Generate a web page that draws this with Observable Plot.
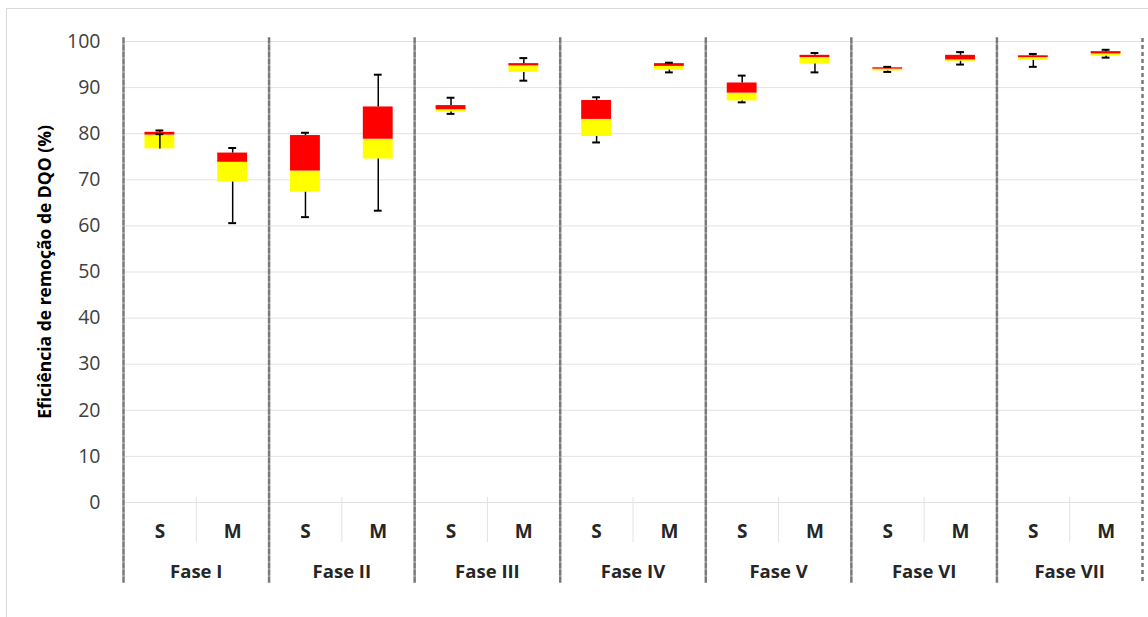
<!DOCTYPE html>
<html>
<head>
<meta charset="utf-8">
<script src="https://cdn.jsdelivr.net/npm/d3@7"></script>
<script src="https://cdn.jsdelivr.net/npm/@observablehq/plot@0.6"></script>
<style>
  html, body { margin: 0; padding: 0; background: #ffffff; }
  #wrap { position: relative; width: 1148px; height: 617px; overflow: hidden; background: #ffffff; }
  #chart { position: absolute; left: 0; top: 0; }
  #border { position: absolute; left: 6px; top: 8px; width: 1160px; height: 640px;
            border-left: 1px solid #d9d9d9; border-top: 1px solid #d9d9d9; pointer-events: none; }
</style>
</head>
<body>
<div id="wrap"><div id="chart"></div><div id="border"></div></div>
<script>
// ---- data ----
const phases = ["Fase I", "Fase II", "Fase III", "Fase IV", "Fase V", "Fase VI", "Fase VII"];
const groups = ["S", "M"];
// values in order: Fase I S, Fase I M, Fase II S, Fase II M, ...
const whiskerLow  = [79.9, 60.6, 61.9, 63.3, 84.3, 91.5, 78.1, 93.3, 86.8, 93.3, 93.4, 95.0, 94.5, 96.5];
const q1          = [76.7, 69.5, 67.3, 74.5, 84.7, 93.3, 79.4, 93.8, 87.1, 95.1, 93.6, 95.7, 95.9, 96.8];
const median      = [79.7, 73.8, 71.9, 78.8, 85.2, 94.7, 83.1, 94.6, 88.8, 96.5, 94.0, 96.0, 96.5, 97.3];
const q3          = [80.3, 75.8, 79.6, 85.8, 86.1, 95.2, 87.2, 95.2, 91.0, 97.0, 94.3, 97.0, 96.9, 97.8];
const whiskerHigh = [80.7, 76.9, 80.2, 92.8, 87.8, 96.4, 87.9, 95.4, 92.6, 97.5, 94.5, 97.7, 97.3, 98.2];
const yTicks = [0, 10, 20, 30, 40, 50, 60, 70, 80, 90, 100];
const yTitle = "Eficiência de remoção de DQO (%)";

const rows = [];
phases.forEach((phase, i) => groups.forEach((group, j) => {
  const k = i * groups.length + j;
  rows.push({phase, group, lo: whiskerLow[k], q1: q1[k], med: median[k], q3: q3[k], hi: whiskerHigh[k]});
}));
const sRows = rows.filter(d => d.group === groups[0]);
const lastRow = rows.slice(-1);

const font = "'Open Sans', 'DejaVu Sans', sans-serif";
const W = 1148, mL = 123, mR = 6;
const halfStep = (W - mL - mR) / phases.length / groups.length / 2;
const divider = {stroke: "#7a7a7a", strokeWidth: 2.5, strokeDasharray: "4,3"};

const chart = Plot.plot({
  width: W,
  height: 617,
  marginTop: 41,
  marginBottom: 115,
  marginLeft: mL,
  marginRight: mR,
  style: {fontFamily: font, background: "transparent", overflow: "visible"},
  fx: {domain: phases, padding: 0, round: false, axis: null},
  x: {domain: groups, paddingInner: 0.59, paddingOuter: 0.295, round: false, axis: null},
  y: {domain: [0, 100], axis: null},
  marks: [
    Plot.gridY({ticks: yTicks, stroke: "#e3e3e3", strokeOpacity: 1, strokeWidth: 1}),
    // S | M separators under the zero line
    Plot.ruleX(sRows, {fx: "phase", x: "group", dx: halfStep, y1: 1.1, y2: -8.7, stroke: "#e3e3e3", strokeWidth: 1}),
    // phase dividers
    Plot.frame({anchor: "left", ...divider, insetTop: -3, insetBottom: -81}),
    Plot.ruleX(lastRow, {fx: "phase", x: "group", dx: halfStep, y1: 100.65, y2: -17.57, ...divider}),
    // boxes
    Plot.barY(rows, {fx: "phase", x: "group", y1: "q1", y2: "med", fill: "#ffff00"}),
    Plot.barY(rows, {fx: "phase", x: "group", y1: "med", y2: "q3", fill: "#ff0000"}),
    // whiskers
    Plot.ruleX(rows, {fx: "phase", x: "group", y1: "q3", y2: "hi", stroke: "#000000", strokeWidth: 1.5}),
    Plot.ruleX(rows, {fx: "phase", x: "group", y1: "q1", y2: "lo", stroke: "#000000", strokeWidth: 1.5}),
    Plot.tickY(rows, {fx: "phase", x: "group", y: "hi", stroke: "#000000", strokeWidth: 2, insetLeft: 11, insetRight: 11}),
    Plot.tickY(rows, {fx: "phase", x: "group", y: "lo", stroke: "#000000", strokeWidth: 2, insetLeft: 11, insetRight: 11}),
    // axes
    Plot.axisY({ticks: yTicks, tickSize: 0, tickPadding: 23, label: null, fontSize: 19.5, fill: "#404040"}),
    Plot.axisX({anchor: "bottom", tickSize: 0, tickPadding: 22, label: null, fontSize: 19, fontWeight: "bold", fill: "#262626"}),
    Plot.axisFx({anchor: "bottom", tickSize: 0, tickPadding: 62, label: null, fontSize: 18.5, fontWeight: "bold", fill: "#262626"}),
    // y title
    Plot.text([yTitle], {fx: () => phases[0], text: d => d, frameAnchor: "left", dx: -78, dy: 0, rotate: -90,
      textAnchor: "middle", fontSize: 17.5, fontWeight: "bold", fill: "#000000"})
  ]
});
document.getElementById("chart").appendChild(chart);
</script>
</body>
</html>
